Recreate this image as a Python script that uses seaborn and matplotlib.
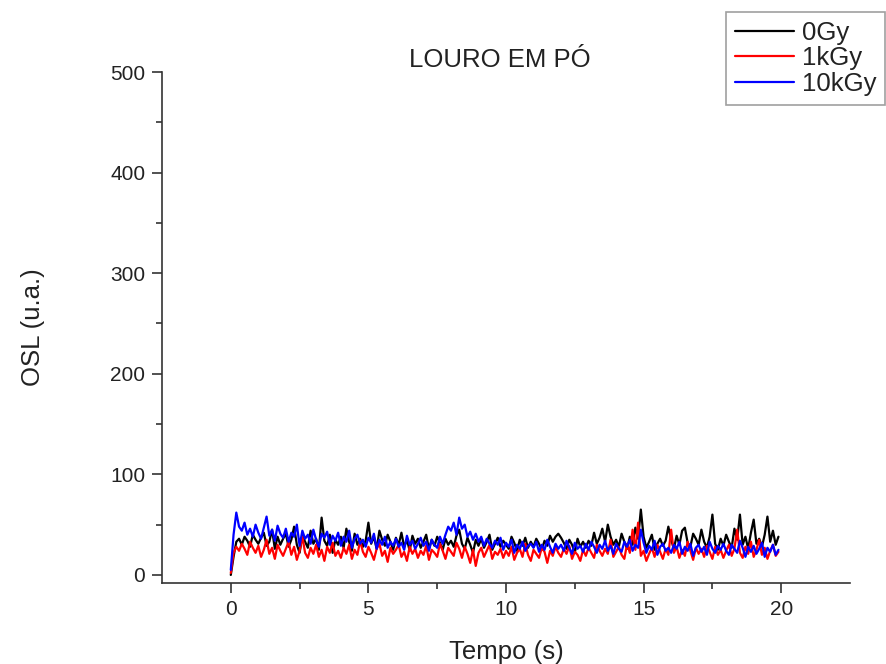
import numpy as np
import pandas as pd
import matplotlib
matplotlib.use("Agg")
import matplotlib.pyplot as plt
import seaborn as sns
from matplotlib.lines import Line2D

time_s = np.round(np.arange(0, 20, 0.1), 1)

osl_0gy = [
    0, 18, 33, 36, 30, 38, 34, 28, 40, 35,
    31, 37, 42, 29, 33, 45, 26, 38, 30, 36,
    41, 28, 35, 48, 30, 22, 39, 33, 27, 44,
    31, 36, 25, 57, 34, 29, 40, 22, 35, 30,
    38, 27, 46, 33, 24, 41, 30, 36, 28, 34,
    52, 31, 38, 26, 44, 35, 29, 40, 33, 25,
    37, 30, 42, 28, 35, 24, 39, 31, 36, 27,
    33, 40, 26, 35, 29, 38, 32, 25, 36, 30,
    34, 28, 39, 45, 31, 26, 37, 30, 22, 35,
    29, 36, 27, 33, 40, 25, 31, 37, 28, 34,
    30, 26, 38, 32, 24, 35, 29, 37, 27, 33,
    28, 36, 31, 25, 34, 29, 39, 33, 38, 41,
    37, 32, 26, 35, 30, 22, 36, 28, 33, 27,
    34, 29, 42, 31, 37, 46, 33, 50, 38, 30,
    35, 28, 41, 33, 26, 38, 30, 47, 36, 65,
    38, 27, 33, 40, 25, 31, 36, 29, 34, 48,
    35, 26, 39, 30, 44, 47, 32, 28, 41, 36,
    30, 45, 33, 27, 38, 60, 31, 25, 36, 29,
    40, 33, 27, 46, 35, 60, 30, 38, 26, 42,
    55, 31, 36, 28, 40, 58, 33, 44, 30, 38,
]

osl_1kgy = [
    2, 22, 28, 24, 31, 26, 20, 33, 27, 22,
    29, 18, 25, 35, 21, 27, 16, 30, 24, 19,
    26, 33, 20, 28, 15, 24, 38, 22, 17, 27,
    21, 30, 18, 25, 14, 28, 22, 32, 19, 24,
    17, 27, 21, 30, 16, 25, 20, 34, 23, 18,
    28, 22, 15, 26, 31, 19, 24, 13, 27, 21,
    25, 30, 18, 23, 14, 28, 21, 26, 17, 24,
    20, 29, 15, 25, 22, 18, 31, 24, 16, 27,
    23, 19, 32, 26, 17, 28, 21, 12, 25, 9,
    22, 27, 18, 24, 30, 16, 23, 20, 26, 17,
    24, 19, 28, 15, 22, 26, 18, 31, 20, 14,
    25, 21, 17, 27, 23, 12, 24, 19, 28, 22,
    18, 26, 21, 29, 16, 23, 20, 14, 25, 19,
    27, 22, 17, 30, 24, 19, 26, 21, 35, 18,
    23, 28, 20, 16, 31, 22, 45, 25, 52, 19,
    24, 14, 21, 27, 18, 30, 23, 16, 26, 20,
    45, 22, 28, 17, 25, 19, 33, 24, 15, 27,
    21, 26, 18, 29, 23, 16, 28, 20, 25, 17,
    24, 30, 19, 26, 45, 22, 17, 28, 21, 33,
    18, 25, 35, 20, 27, 16, 24, 30, 19, 23,
]

osl_10kgy = [
    5, 40, 62, 48, 44, 52, 40, 46, 38, 50,
    42, 36, 47, 58, 39, 45, 34, 49, 41, 37,
    46, 33, 42, 38, 50, 29, 44, 36, 40, 31,
    45, 35, 28, 41, 37, 43, 30, 39, 34, 42,
    29, 38, 33, 44, 27, 36, 40, 31, 35, 28,
    37, 32, 41, 26, 35, 30, 38, 27, 33, 29,
    36, 28, 32, 25, 39, 30, 34, 26, 31, 37,
    29, 33, 24, 35, 30, 27, 38, 31, 40, 48,
    44, 52, 40, 57, 46, 50, 38, 43, 35, 41,
    33, 38, 29, 36, 31, 27, 34, 30, 37, 25,
    32, 28, 35, 22, 30, 26, 33, 24, 29, 31,
    27, 33, 23, 30, 25, 35, 28, 22, 31, 26,
    30, 24, 34, 27, 21, 32, 26, 29, 23, 31,
    25, 33, 28, 22, 30, 26, 34, 24, 29, 21,
    31, 26, 23, 33, 28, 35, 24, 30, 27, 45,
    32, 22, 29, 25, 34, 20, 28, 31, 24, 27,
    22, 30, 26, 33, 21, 28, 24, 31, 19, 27,
    30, 23, 28, 20, 33, 26, 22, 29, 25, 31,
    24, 20, 30, 26, 22, 34, 27, 18, 28, 23,
    29, 21, 26, 32, 18, 27, 23, 30, 20, 25,
]

series_labels = ["0Gy", "1kGy", "10kGy"]
series_colors = ["#000000", "#ff0000", "#0000ff"]
x_ticks = [0, 5, 10, 15, 20]
y_ticks = [0, 100, 200, 300, 400, 500]
title = "LOURO EM PÓ"
x_label = "Tempo (s)"
y_label = "OSL (u.a.)"

df = pd.concat([
    pd.DataFrame({"t": time_s, "osl": vals, "dose": lab})
    for vals, lab in zip([osl_0gy, osl_1kgy, osl_10kgy], series_labels)
], ignore_index=True)

sns.set_style("ticks")
plt.rcParams["font.family"] = ["Liberation Sans", "DejaVu Sans"]

fig = plt.figure(figsize=(8.86, 6.64), dpi=100)
ax = fig.add_axes([162 / 886, 81 / 664, (850 - 162) / 886, (583 - 72) / 664])

sns.lineplot(data=df, x="t", y="osl", hue="dose", hue_order=series_labels,
             palette=series_colors, linewidth=1.6, ax=ax, legend=False,
             estimator=None, sort=False)

ax.set_xlim(-2.5, 22.5)
ax.set_ylim(-8, 500)
ax.set_xticks(x_ticks)
ax.set_yticks(y_ticks)
ax.set_xticks(np.array(x_ticks[:-1]) + 2.5, minor=True)
ax.set_yticks(np.array(y_ticks[:-1]) + 50, minor=True)
ax.tick_params(which="major", direction="out", length=7, width=1.2,
               labelsize=15, colors="#333333", labelcolor="#222222", pad=5)
ax.tick_params(which="minor", direction="out", length=4, width=1.2, colors="#333333")
for s in ["top", "right"]:
    ax.spines[s].set_visible(False)
for s in ["left", "bottom"]:
    ax.spines[s].set_linewidth(1.2)
    ax.spines[s].set_color("#333333")

ax.set_xlabel(x_label, fontsize=18.5, color="#222222", labelpad=15)
ax.set_ylabel(y_label, fontsize=18.5, color="#222222", labelpad=47)
fig.text(500 / 886, 1 - 60 / 664, title, fontsize=18.5, color="#222222",
         ha="center", va="center")

handles = [Line2D([], [], color=c, lw=1.6) for c in series_colors]
leg = fig.legend(handles, series_labels, loc="upper right",
                 bbox_to_anchor=(885 / 886, 1 - 12 / 664),
                 fontsize=18.5, frameon=True, fancybox=False,
                 handlelength=2.3, handletextpad=0.3, labelspacing=0.05,
                 borderpad=0.35, borderaxespad=0.0)
leg.get_frame().set_edgecolor("#888888")
leg.get_frame().set_linewidth(1.2)
for t in leg.get_texts():
    t.set_color("#222222")

fig.savefig("out.png", dpi=100)
